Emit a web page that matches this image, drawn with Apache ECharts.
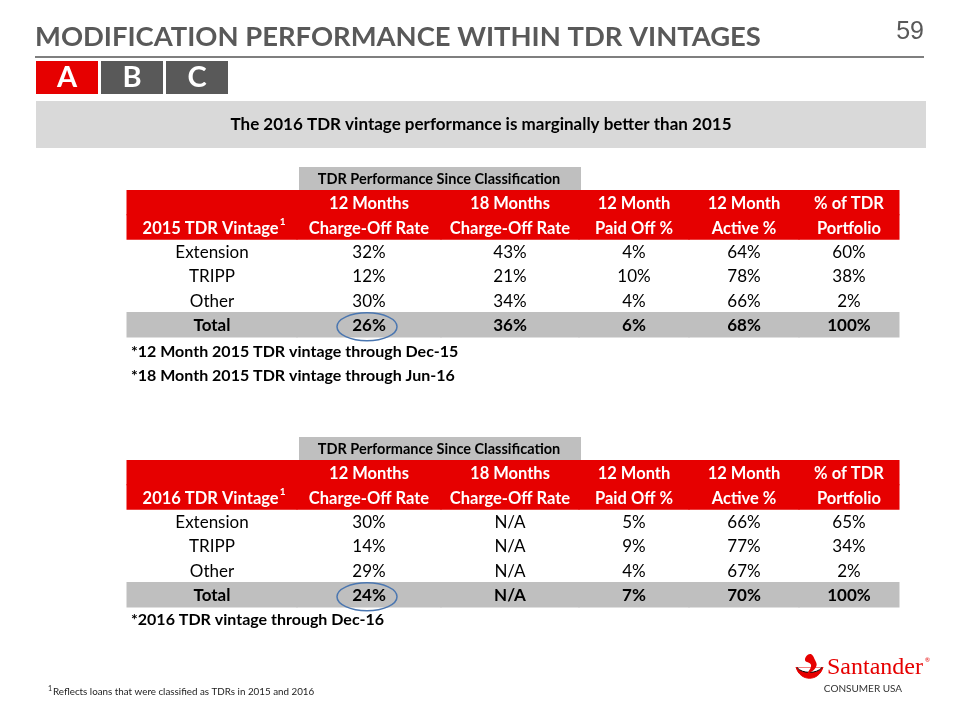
<!DOCTYPE html>
<html><head><meta charset="utf-8">
<script src="https://cdn.jsdelivr.net/npm/echarts@6/dist/echarts.min.js"></script>
<style>html,body{margin:0;padding:0;background:#fff}#c{width:960px;height:720px}</style>
</head><body><div id="c"></div>
<script>
// ---------- data ----------
const headerLine1 = ['', '12 Months', '18 Months', '12 Month', '12 Month', '% of TDR'];
const headerLine2 = ['TDR Vintage', 'Charge-Off Rate', 'Charge-Off Rate', 'Paid Off %', 'Active %', 'Portfolio'];
const spanLabel = 'TDR Performance Since Classification';
const rowNames = ['Extension', 'TRIPP', 'Other', 'Total'];
const tableRows = ['label', 'head1', 'head2', 'Extension', 'TRIPP', 'Other', 'Total'];

const co12_2015   = [32, 12, 30, 26];
const co18_2015   = [43, 21, 34, 36];
const paid_2015   = [4, 10, 4, 6];
const active_2015 = [64, 78, 66, 68];
const share_2015  = [60, 38, 2, 100];

const co12_2016   = [30, 14, 29, 24];
const co18_2016   = [null, null, null, null]; // N/A
const paid_2016   = [5, 9, 4, 7];
const active_2016 = [66, 77, 67, 70];
const share_2016  = [65, 34, 2, 100];

const notes2015 = ['*12 Month 2015 TDR vintage through Dec-15', '*18 Month 2015 TDR vintage through Jun-16'];
const notes2016 = ['*2016 TDR vintage through Dec-16'];

// ---------- layout ----------
const FONT = 'Lato, "Open Sans", sans-serif';
const colWidths = [170, 144, 138, 110, 110, 100];
const colStart = [0];
colWidths.forEach(w => colStart.push(colStart[colStart.length - 1] + w));
const tableWidth = colStart[colStart.length - 1];
const RED = '#e60000', GRAY = '#bfbfbf';

function fmt(v) { return v == null ? 'N/A' : v + '%'; }

function buildCells(year, cols) {
  const cells = [];
  cells.push({ col: 1, span: 2, row: 0, text: spanLabel, kind: 'label' });
  for (let c = 0; c < 6; c++) cells.push({ col: c, span: 1, row: 1, text: headerLine1[c], kind: 'head' });
  for (let c = 0; c < 6; c++) cells.push({ col: c, span: 1, row: 2, text: c === 0 ? year + ' ' + headerLine2[0] : headerLine2[c], kind: 'head', sup: c === 0 });
  for (let r = 0; r < 4; r++) {
    const kind = r === 3 ? 'total' : 'body';
    cells.push({ col: 0, span: 1, row: 3 + r, text: rowNames[r], kind });
    cols.forEach((arr, i) => cells.push({ col: i + 1, span: 1, row: 3 + r, text: fmt(arr[r]), kind, circled: r === 3 && i === 0 }));
  }
  return cells;
}

function makeRender(cells) {
  return function (params, api) {
    const c = cells[params.dataIndex];
    const yc = api.coord([0, c.row])[1];
    const bh = api.size([0, 1])[1];
    const xa = api.coord([colStart[c.col], 0])[0];
    const xb = api.coord([colStart[c.col + c.span], 0])[0];
    const xm = (xa + xb) / 2;
    const children = [];
    if (c.kind === 'head' || c.kind === 'total') {
      children.push({ type: 'rect', shape: { x: xa - 0.5, y: yc - bh / 2 - 0.5, width: xb - xa + 1, height: bh + 1 }, style: { fill: c.kind === 'head' ? RED : GRAY } });
    } else if (c.kind === 'label') {
      children.push({ type: 'rect', shape: { x: xa + 2, y: yc - bh / 2 + 1, width: xb - xa, height: bh - 1.5 }, style: { fill: GRAY } });
    }
    let size = 17, weight = 'normal', fill = '#000';
    if (c.kind === 'head') { size = 16.5; weight = 'bold'; fill = '#fff'; }
    if (c.kind === 'total') { weight = 'bold'; }
    if (c.kind === 'label') { size = 14.5; weight = 'bold'; }
    const ty = yc + (c.kind === 'head' ? 1.5 : 1);
    if (c.sup) {
      children.push({ type: 'text', style: {
        text: '{m|' + c.text + '}{s|1}', x: xm + 2, y: ty, textAlign: 'center', textVerticalAlign: 'middle',
        rich: {
          m: { fontSize: size, fontWeight: weight, fontFamily: FONT, fill: fill, textFill: fill },
          s: { fontSize: 10, fontWeight: weight, fontFamily: FONT, fill: fill, textFill: fill, verticalAlign: 'top', padding: [0, 0, 14, 1] }
        }
      } });
    } else if (c.text) {
      children.push({ type: 'text', style: {
        text: c.text, x: c.kind === 'label' ? xm + 1 : xm, y: ty, textAlign: 'center', textVerticalAlign: 'middle',
        fontSize: size, fontWeight: weight, fontFamily: FONT, fill: fill
      } });
    }
    if (c.circled) {
      const rx = 30, ry = 14;
      children.push({ type: 'path', shape: { pathData: 'M0,1A1,1 0 1,0 2,1A1,1 0 1,0 0,1Z', x: xm - 2 - rx, y: yc + 2 - ry, width: rx * 2, height: ry * 2, layout: 'cover' },
        style: { fill: 'none', stroke: '#4a76b0', lineWidth: 1.5 } });
    }
    return { type: 'group', children };
  };
}

const cells2015 = buildCells('2015', [co12_2015, co18_2015, paid_2015, active_2015, share_2015]);
const cells2016 = buildCells('2016', [co12_2016, co18_2016, paid_2016, active_2016, share_2016]);

const rowH = 24.43;
const tableTops = [166, 436];

const chart = echarts.init(document.getElementById('c'), null, { renderer: 'canvas' });

function txt(x, y, text, font, fill, align) {
  return { type: 'text', x: x, y: y, silent: true, style: { text, font, fill, textAlign: align || 'left', textVerticalAlign: 'middle' } };
}

const graphics = [
  txt(35, 37, 'MODIFICATION PERFORMANCE WITHIN TDR VINTAGES', 'bold 27.4px ' + FONT, '#595959'),
  txt(924, 32, '59', '25px "Liberation Sans", Arial, sans-serif', '#595959', 'right'),
  { type: 'line', shape: { x1: 35, y1: 57, x2: 924, y2: 57 }, style: { stroke: '#7f7f7f', lineWidth: 2 } },
  { type: 'rect', shape: { x: 36, y: 61, width: 62, height: 33 }, style: { fill: RED } },
  { type: 'rect', shape: { x: 101, y: 61, width: 62, height: 33 }, style: { fill: '#595959' } },
  { type: 'rect', shape: { x: 166, y: 61, width: 62, height: 33 }, style: { fill: '#595959' } },
  txt(67, 78, 'A', 'bold 29px ' + FONT, '#fff', 'center'),
  txt(132, 78, 'B', 'bold 29px ' + FONT, '#fff', 'center'),
  txt(197, 78, 'C', 'bold 29px ' + FONT, '#fff', 'center'),
  { type: 'rect', shape: { x: 36, y: 101, width: 890, height: 47 }, style: { fill: '#d9d9d9' } },
  txt(481, 125, 'The 2016 TDR vintage performance is marginally better than 2015', 'bold 17px ' + FONT, '#000', 'center'),
  txt(131, 352, notes2015[0], 'bold 16px ' + FONT, '#000'),
  txt(131, 376, notes2015[1], 'bold 16px ' + FONT, '#000'),
  txt(131, 620, notes2016[0], 'bold 16px ' + FONT, '#000'),
  txt(48, 689, '1', '7px ' + FONT, '#222'),
  txt(53, 692, 'Reflects loans that were classified as TDRs in 2015 and 2016', '9.8px ' + FONT, '#222'),
  // logo
  { type: 'bezierCurve', shape: { x1: 796, y1: 667, x2: 823, y2: 667, cpx1: 800, cpy1: 682, cpx2: 819, cpy2: 682 }, style: { fill: RED, stroke: RED, lineWidth: 1 } },
  { type: 'bezierCurve', shape: { x1: 797, y1: 667.5, x2: 822, y2: 667.5, cpx1: 802, cpy1: 674, cpx2: 817, cpy2: 674 }, style: { fill: '#fff' } },
  { type: 'polygon', shape: { points: [[810, 654], [805, 660], [811, 665], [808, 673], [816, 667], [815, 660]], smooth: 0.5 }, style: { fill: RED } },
  txt(827, 668, 'Santander', '24px "Liberation Serif", "DejaVu Serif", serif', RED),
  txt(925, 660, '®', '6px ' + FONT, RED),
  txt(863, 689, 'CONSUMER USA', '10px ' + FONT, '#333', 'center')
];

const option = {
  animation: false,
  backgroundColor: '#fff',
  graphic: { elements: graphics },
  grid: tableTops.map(t => ({ left: 127, top: t, width: tableWidth, height: rowH * tableRows.length })),
  xAxis: tableTops.map((t, i) => ({ type: 'value', gridIndex: i, min: 0, max: tableWidth, show: false })),
  yAxis: tableTops.map((t, i) => ({ type: 'category', gridIndex: i, data: tableRows, inverse: true, show: false })),
  series: [cells2015, cells2016].map((cells, i) => ({
    type: 'custom', xAxisIndex: i, yAxisIndex: i, silent: true,
    renderItem: makeRender(cells),
    data: cells.map(c => [colStart[c.col], c.row])
  }))
};
chart.setOption(option);
</script>
</body></html>
